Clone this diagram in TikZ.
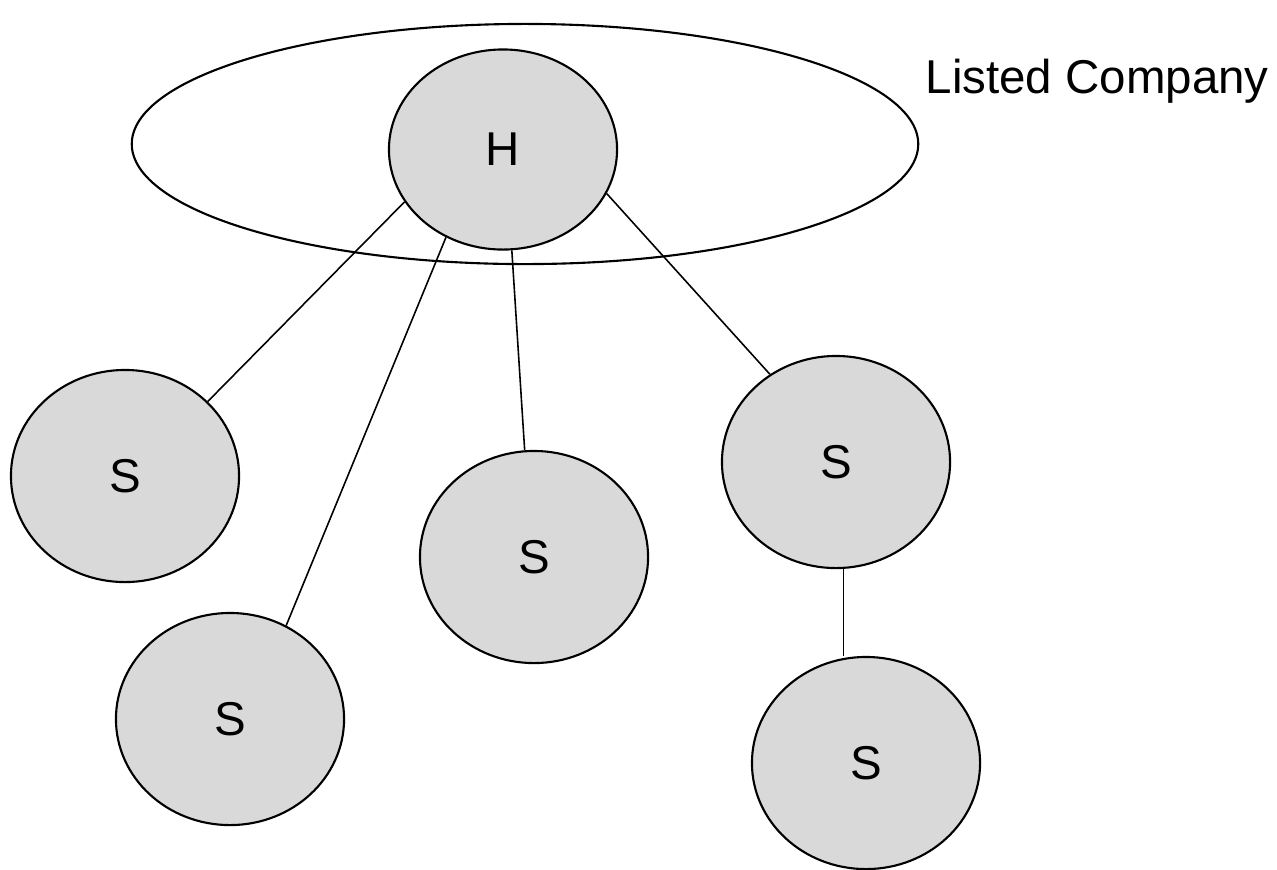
\documentclass[tikz,border=0pt]{standalone}
\usepackage{fontspec}
\setmainfont{Liberation Sans}
\usetikzlibrary{shapes.geometric}

\begin{document}
\begin{tikzpicture}[x=0.01cm, y=-0.01cm, every node/.style={font=\fontsize{13.5}{16}\selectfont},
    firm/.style={draw, ellipse, fill=black!15, line width=0.6pt, inner sep=0pt, minimum width=2.28cm, minimum height=2.12cm},
    link/.style={line width=0.45pt}]
        \useasboundingbox (0,0) rectangle (1277,869);
        % listed group
        \node[draw, ellipse, line width=0.6pt, minimum width=7.86cm, minimum height=2.4cm] (listed) at (525,144) {};
        \node[anchor=base west, inner sep=0pt] (label) at (925,93) {Listed Company};
        \node[firm, minimum height=2.0cm] (hold) at (503,149.5) {H};
        % subsidiaries
        \node[firm] (sub1) at (125,476) {S};
        \node[firm] (sub2) at (230,719) {S};
        \node[firm] (sub3) at (534,557) {S};
        \node[firm] (sub4) at (836,462) {S};
        \node[firm] (sub5) at (866,763) {S};
        \draw[link] (hold.208) -- (sub1.42);
        \draw[link] (hold.237) -- (sub2.59);
        \draw[link] (hold.275) -- (sub3.95);
        \draw[link] (hold.337) -- (sub4.127);
        \draw[link] (sub4.274) -- (sub4.274 |- sub5.north);
\end{tikzpicture}
\end{document}
